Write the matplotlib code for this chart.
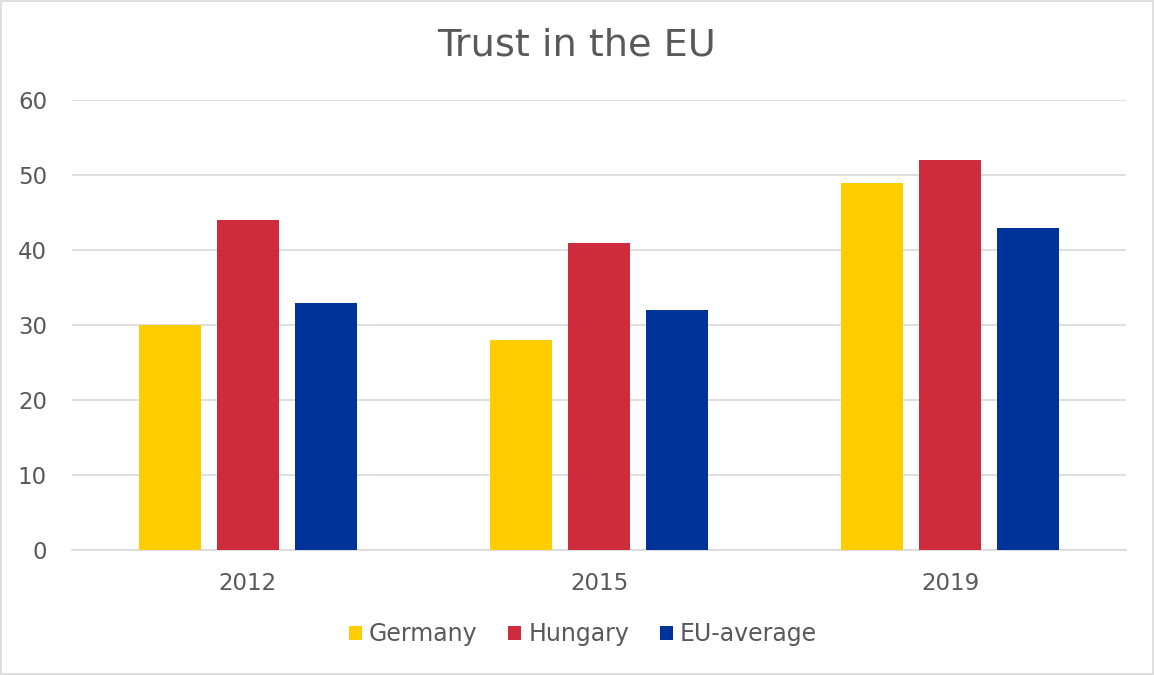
import numpy as np
import matplotlib.pyplot as plt
from matplotlib.patches import Rectangle

years = ['2012', '2015', '2019']
germany = [30, 28, 49]
hungary = [44, 41, 52]
eu_average = [33, 32, 43]

series = [('Germany', germany, '#FFCC00'),
          ('Hungary', hungary, '#CE2B3D'),
          ('EU-average', eu_average, '#003399')]

plt.rcParams['font.family'] = ['DejaVu Sans']

fig = plt.figure(figsize=(11.54, 6.75), dpi=100)
ax = fig.add_axes([72 / 1154, 1 - 550 / 675, 1054 / 1154, 450 / 675])

x = np.arange(len(years))
width = 0.177
step = 0.222
for i, (name, vals, color) in enumerate(series):
    ax.bar(x + (i - 1) * step, vals, width, color=color, label=name, zorder=3)

ax.set_xlim(-0.5, 2.5)
ax.set_ylim(0, 60)
ax.set_yticks(range(0, 61, 10))
ax.set_xticks(x)
ax.set_xticklabels(years)
ax.grid(axis='y', color='#D9D9D9', linewidth=1.2, zorder=0)
for s in ['top', 'right', 'left']:
    ax.spines[s].set_visible(False)
ax.spines['bottom'].set_color('#D9D9D9')
ax.spines['bottom'].set_linewidth(1.2)
ax.tick_params(axis='both', length=0, labelsize=16.5, labelcolor='#595959')
ax.tick_params(axis='x', pad=16)
ax.tick_params(axis='y', pad=18)

fig.text(0.5, 1 - 45 / 675, 'Trust in the EU', ha='center', va='center',
         fontsize=27.5, color='#595959')

leg = ax.legend(loc='center', ncol=3, frameon=False,
                fontsize=17, labelcolor='#595959', handlelength=0.55, handleheight=0.55,
                handletextpad=0.3, columnspacing=1.3)
leg.set_bbox_to_anchor((583 / 1154, 1 - 634 / 675), transform=fig.transFigure)

fig.patches.append(Rectangle((0.001, 0.001), 0.998, 0.998, transform=fig.transFigure,
                             fill=False, edgecolor='#D9D9D9', linewidth=1.2))

fig.savefig('out.png', dpi=100, facecolor='white')
